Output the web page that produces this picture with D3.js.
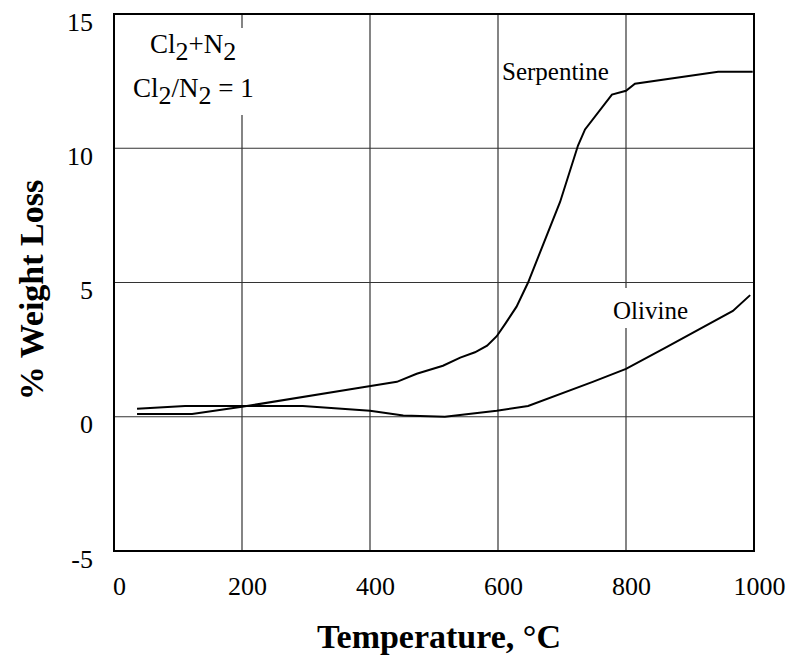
<!DOCTYPE html>
<html><head><meta charset="utf-8">
<script src="https://cdn.jsdelivr.net/npm/d3@7"></script>
<style>body{margin:0;background:#fff}svg{display:block}text{font-family:"Liberation Serif","Times New Roman",serif}</style>
</head><body><svg id="c" width="793" height="663"></svg>
<script>
const xTicks = [0, 200, 400, 600, 800, 1000];
const yTicks = [-5, 0, 5, 10, 15];
const serpT = [36, 122, 200, 384, 442, 473, 514, 541, 564, 583, 598, 611, 629, 647, 697, 725, 736, 778, 800, 814, 944, 998];
const serpW = [0.1, 0.1, 0.37, 1.08, 1.3, 1.6, 1.9, 2.2, 2.4, 2.65, 3.0, 3.45, 4.1, 5.0, 8.0, 10.1, 10.7, 12.0, 12.14, 12.4, 12.85, 12.85];
const oliT = [36, 111, 200, 295, 400, 452, 517, 598, 647, 748, 800, 864, 967, 994];
const oliW = [0.3, 0.4, 0.4, 0.4, 0.22, 0.05, 0, 0.22, 0.4, 1.3, 1.78, 2.6, 3.94, 4.53];

const svg = d3.select("#c");
const L = 114, R = 754, T = 14, B = 551;
const x = d3.scaleLinear().domain([0, 1000]).range([L, R]);
const y = d3.scaleLinear().domain([-5, 15]).range([B, T]);
const FONT = '"Liberation Serif","Times New Roman",serif';

// grid
const g = svg.append("g");
g.selectAll("line.v").data(xTicks.slice(1, -1)).join("line")
  .attr("x1", d => x(d)).attr("x2", d => x(d)).attr("y1", T).attr("y2", B)
  .attr("stroke", "#333").attr("stroke-width", 1.2);
g.selectAll("line.h").data(yTicks.slice(1, -1)).join("line")
  .attr("y1", d => y(d)).attr("y2", d => y(d)).attr("x1", L).attr("x2", R)
  .attr("stroke", "#333").attr("stroke-width", 1.2);

// white boxes behind annotations
svg.append("rect").attr("x", 130).attr("y", 28).attr("width", 132).attr("height", 87).attr("fill", "#fff");
svg.append("rect").attr("x", 610).attr("y", 288).attr("width", 84).attr("height", 40).attr("fill", "#fff");

// frame
svg.append("rect").attr("x", L).attr("y", T).attr("width", R - L).attr("height", B - T)
  .attr("fill", "none").attr("stroke", "#000").attr("stroke-width", 2);

// axes labels
const fmt = d => String(d);
const xAxis = d3.axisBottom(x).tickValues(xTicks).tickFormat(fmt).tickSize(0).tickPadding(0);
const xa = svg.append("g").attr("transform", `translate(0,${B})`).call(xAxis);
xa.select(".domain").remove();
xa.selectAll("text").attr("font-size", 26).attr("fill", "#000").attr("font-family", FONT)
  .attr("dy", null).attr("y", 44).attr("dx", 5);

const yAxis = d3.axisLeft(y).tickValues(yTicks).tickFormat(fmt).tickSize(0).tickPadding(0);
const ya = svg.append("g").attr("transform", `translate(${L},0)`).call(yAxis);
ya.select(".domain").remove();
ya.selectAll("text").attr("font-size", 26).attr("fill", "#000").attr("font-family", FONT)
  .attr("x", -21).attr("dy", 16);

// lines
const line = d3.line().x(d => x(d[0])).y(d => y(d[1]));
svg.append("path").datum(serpT.map((t, i) => [t, serpW[i]])).attr("d", line)
  .attr("fill", "none").attr("stroke", "#000").attr("stroke-width", 2);
svg.append("path").datum(oliT.map((t, i) => [t, oliW[i]])).attr("d", line)
  .attr("fill", "none").attr("stroke", "#000").attr("stroke-width", 2);

// labels
svg.append("text").attr("x", 502).attr("y", 80).attr("font-size", 25).text("Serpentine");
svg.append("text").attr("x", 613).attr("y", 319).attr("font-size", 25).text("Olivine");

const t1 = svg.append("text").attr("x", 150).attr("y", 53).attr("font-size", 27);
t1.append("tspan").text("Cl");
t1.append("tspan").attr("dy", 7).attr("font-size", 26).text("2");
t1.append("tspan").attr("dy", -7).text("+N");
t1.append("tspan").attr("dy", 7).attr("font-size", 26).text("2");
const t2 = svg.append("text").attr("x", 133).attr("y", 97).attr("font-size", 27);
t2.append("tspan").text("Cl");
t2.append("tspan").attr("dy", 7).attr("font-size", 26).text("2");
t2.append("tspan").attr("dy", -7).text("/N");
t2.append("tspan").attr("dy", 7).attr("font-size", 26).text("2");
t2.append("tspan").attr("dy", -7).text(" = 1");

// axis titles
svg.append("text").attr("x", 439).attr("y", 648).attr("text-anchor", "middle")
  .attr("font-size", 34).attr("font-weight", "bold").text("Temperature, °C");
svg.append("text").attr("transform", "translate(43,290) rotate(-90)").attr("text-anchor", "middle")
  .attr("font-size", 34).attr("font-weight", "bold").text("% Weight Loss");
</script></body></html>
